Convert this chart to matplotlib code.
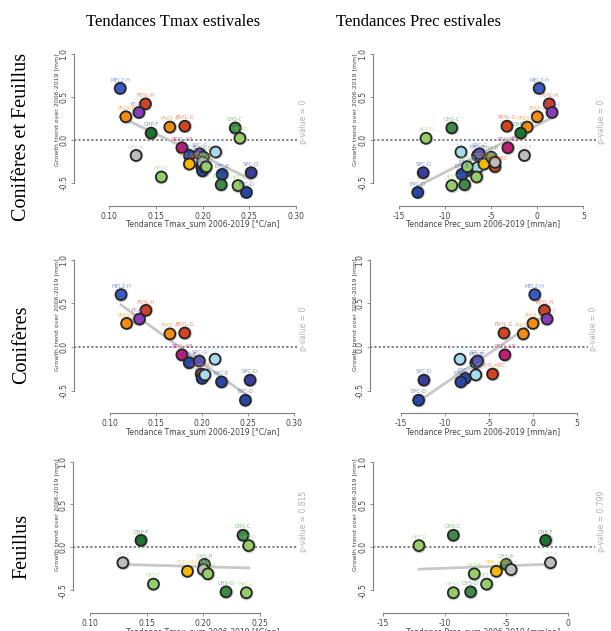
import numpy as np
import matplotlib
matplotlib.use('Agg')
import matplotlib.pyplot as plt
import matplotlib.transforms as mtrans

# Données : conifères
con_labels = ['MELZ-H', 'PSYL-H', 'PCAL-J', 'PNOI-E', 'PNOI-G', 'PSYL-G', 'PSYL-AB', 'EPC-B',
              'SPC-G', 'DOUG-G', 'PSYL-ABC', 'EPC-C', 'DOUG-C', 'EPC-E', 'SPC-D', 'EPC-D']
con_tmax = [0.112, 0.139, 0.132, 0.118, 0.165, 0.181, 0.178, 0.186,
            0.197, 0.214, 0.199, 0.200, 0.203, 0.221, 0.252, 0.247]
con_prec = [0.2, 1.3, 1.6, 0.0, -1.1, -3.3, -3.2, -6.5,
            -6.3, -8.3, -4.6, -7.7, -6.5, -8.2, -12.4, -13.0]
con_trend = [0.60, 0.42, 0.32, 0.27, 0.15, 0.16, -0.09, -0.18,
             -0.16, -0.14, -0.31, -0.36, -0.32, -0.40, -0.38, -0.61]
con_colors = ['#3a5bc7', '#d2431f', '#8a3db8', '#f28c12', '#f28c12', '#d2431f', '#be1e78', '#2747a8',
              '#5a55b0', '#a8dcec', '#d2431f', '#2747a8', '#a8dcec', '#2747a8', '#3c3c9c', '#2747a8']

# Données : feuillus
feu_labels = ['CHP-F', 'CHA-E', 'HET-E', 'FRE-ABC', 'CHS-B', 'CHA-C', 'HET-B', 'CHS-G',
              'HET-C', 'CHS-C', 'HET-D']
feu_tmax = [0.145, 0.129, 0.156, 0.186, 0.201, 0.200, 0.204, 0.220, 0.238, 0.235, 0.240]
feu_prec = [-1.8, -1.4, -6.6, -5.8, -5.0, -4.6, -7.6, -7.9, -9.3, -9.3, -12.1]
feu_trend = [0.08, -0.18, -0.43, -0.28, -0.20, -0.26, -0.31, -0.52, -0.53, 0.14, 0.02]
feu_colors = ['#1c7430', '#bdbdbd', '#96cc6a', '#f8b800', '#5e8f5e', '#bdbdbd', '#96cc6a', '#3e8a48',
              '#96cc6a', '#3e8a48', '#96cc6a']

pvals = ['p-value = 0', 'p-value = 0', 'p-value = 0', 'p-value = 0', 'p-value = 0.815', 'p-value = 0.799']
col_titles = ['Tendances Tmax estivales', 'Tendances Prec estivales']
row_titles = ['Conifères et Feuillus', 'Conifères', 'Feuillus']
xlab_tmax = 'Tendance Tmax_sum 2006-2019 [°C/an]'
xlab_prec = 'Tendance Prec_sum 2006-2019 [mm/an]'
ylab = 'Growth trend over 2006-2019 [mm]'

W, H = 611, 631
fig = plt.figure(figsize=(W / 100, H / 100), dpi=100)
fig.patch.set_facecolor('white')

# géométrie des panneaux en pixels : (gauche, droite, haut, bas), repère x (px,val,px,val), y0 px, px par unité
panels = [
    ((74, 297, 50, 206), (109, 0.10, 296, 0.30), 140, 86.0, [0.10, 0.15, 0.20, 0.25, 0.30]),
    ((373, 596, 50, 206), (399.3, -15, 583.3, 5), 140, 86.0, [-15, -10, -5, 0, 5]),
    ((74, 297, 254, 413), (110, 0.10, 294.3, 0.30), 347, 87.3, [0.10, 0.15, 0.20, 0.25, 0.30]),
    ((370, 588, 254, 413), (401, -15, 577, 5), 347, 87.3, [-15, -10, -5, 0, 5]),
    ((73, 297, 455, 613), (90, 0.10, 260, 0.25), 547.3, 85.7, [0.10, 0.15, 0.20, 0.25]),
    ((373, 595, 455, 613), (383.3, -15, 567.7, 0), 547.3, 85.7, [-15, -10, -5, 0]),
]

rows = [
    (con_tmax + feu_tmax, con_prec + feu_prec, con_trend + feu_trend, con_colors + feu_colors, con_labels + feu_labels),
    (con_tmax, con_prec, con_trend, con_colors, con_labels),
    (feu_tmax, feu_prec, feu_trend, feu_colors, feu_labels),
]

for i, (box, xref, y0, ppu, xticks) in enumerate(panels):
    l, r, t, b = box
    ax = fig.add_axes([l / W, 1 - b / H, (r - l) / W, (b - t) / H])
    xa, va, xb, vb = xref
    sx = (xb - xa) / (vb - va)
    ax.set_xlim(va + (l - xa) / sx, va + (r - xa) / sx)
    ax.set_ylim((y0 - b) / ppu, (y0 - t) / ppu)

    tmax, prec, trend, colors, labels = rows[i // 2]
    xs = np.array(tmax if i % 2 == 0 else prec)
    ys = np.array(trend)

    # ligne zéro et droite de régression
    ax.axhline(0, color='#7a7a7a', lw=1.3, ls=(0, (1.2, 1.2)), zorder=1)
    a, c = np.polyfit(xs, ys, 1)
    xx = np.array([xs.min(), xs.max()])
    ax.plot(xx, a * xx + c, color='#c8c8c8', lw=2, zorder=2)

    ax.scatter(xs, ys, s=95, c='#9a9a9a', alpha=0.5, linewidths=0, zorder=3)
    ax.scatter(xs, ys, s=62, c=colors, edgecolors='#262626', linewidths=1.3, zorder=4)
    for x, y, lab, col in zip(xs, ys, labels, colors):
        ax.annotate(lab, (x, y), xytext=(0, 6), textcoords='offset points', ha='center', va='center',
                    fontsize=3.8, color=col, alpha=0.6, zorder=5)

    # axes façon R
    for s in ['top', 'right']:
        ax.spines[s].set_visible(False)
    ax.spines['left'].set_bounds(-0.5, 1.0)
    ax.spines['bottom'].set_bounds(xticks[0], xticks[-1])
    for s in ['left', 'bottom']:
        ax.spines[s].set_color('#808080')
        ax.spines[s].set_linewidth(0.8)
    ax.set_xticks(xticks)
    ax.set_yticks([-0.5, 0.0, 0.5, 1.0])
    if i % 2 == 0:
        ax.set_xticklabels(['%.2f' % v for v in xticks])
    else:
        ax.set_xticklabels(['%d' % v for v in xticks])
    ax.set_yticklabels(['-0.5', '0.0', '0.5', '1.0'], rotation=90, va='center')
    ax.tick_params(direction='out', length=2.5, width=0.6, color='#808080', labelsize=5.5,
                   labelcolor='#444444', pad=1.5)
    ax.patch.set_alpha(0)

    ax.set_ylabel(ylab, fontsize=4.5, color='#444444')
    ax.yaxis.set_label_coords((57 - l) / (r - l) if i % 2 == 0 else (355 - l) / (r - l), 0.62)
    ax.yaxis.label.set_va('center')
    ax.set_xlabel(xlab_tmax if i % 2 == 0 else xlab_prec, fontsize=5.5, color='#444444')
    xc = 203 if i % 2 == 0 else 483
    ax.xaxis.set_label_coords((xc - l) / (r - l), -0.115)
    ax.xaxis.label.set_va('center')

    # p-value dans la marge droite
    tr = mtrans.blended_transform_factory(ax.transAxes, ax.transData)
    ax.text(1.0 + 6 / (r - l), -0.05, pvals[i], transform=tr, rotation=90, rotation_mode='anchor',
            ha='left', va='center', fontsize=5.5, color='#b0b0b0', clip_on=False)

# titres
fig.text(173 / W, 1 - 22 / H, col_titles[0], fontsize=12, family='Liberation Serif', ha='center', va='center')
fig.text(418 / W, 1 - 22 / H, col_titles[1], fontsize=12, family='Liberation Serif', ha='center', va='center')
for lab, yc in zip(row_titles, [137, 345, 546]):
    fig.text(22 / W, 1 - yc / H, lab, fontsize=14.5, family='Liberation Serif', rotation=90,
             ha='center', va='center')

fig.savefig('out.png', dpi=100)
